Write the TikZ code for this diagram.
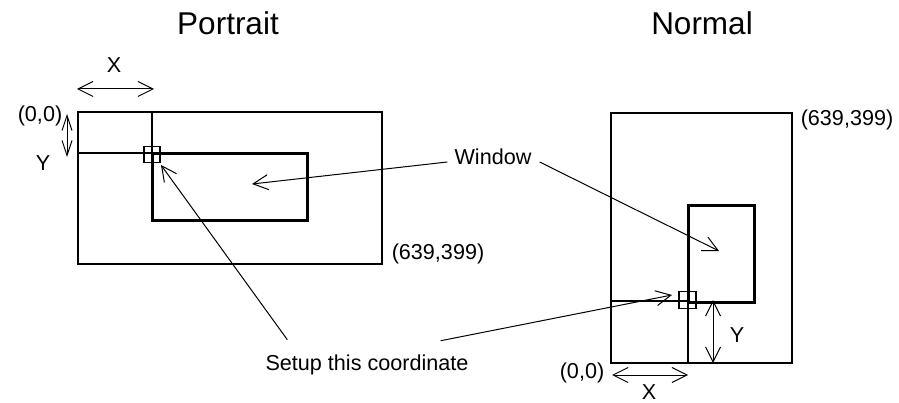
\documentclass[tikz,border=0pt]{standalone}
\usepackage{fontspec}
\setmainfont{Liberation Sans}
\usetikzlibrary{arrows.meta}

\begin{document}
\begin{tikzpicture}[x=1pt,y=-1pt,
  lbl/.style={font=\fontsize{21.6}{26}\selectfont, inner sep=2pt},
  ttl/.style={font=\fontsize{31.5}{38}\selectfont, inner sep=0pt},
  frameline/.style={line width=1.1pt},
  winline/.style={line width=3pt},
  ptr/.style={line width=1pt,-{Straight Barb[length=15pt,width=15pt]}},
  dimline/.style={line width=1pt,{Straight Barb[length=15pt,width=15pt]}-{Straight Barb[length=15pt,width=15pt]}}]
  \useasboundingbox (0,0) rectangle (899,403);

  % portrait screen
  \coordinate (pc) at (152,154);
  \coordinate (pmid) at (252,184);
  \coordinate (pset) at (161,165);
  \draw[frameline] (78,112) rectangle (382,264);
  \draw[frameline] (152,112) -- (152,154);
  \draw[frameline] (78,153) -- (152,153);
  \draw[winline] (pc) rectangle (307,221);
  \draw[frameline] ([shift={(-8,-7.5)}]pc) rectangle ([shift={(8,8.5)}]pc);
  \draw[dimline] (77,89) -- (154,89);
  \draw[dimline,{Straight Barb[length=15pt,width=10pt]}-{Straight Barb[length=15pt,width=10pt]}] (67,114) -- (67,157);

  % normal screen
  \coordinate (nc) at (688,302);
  \coordinate (nmid) at (719,251);
  \coordinate (nset) at (672,295);
  \draw[frameline] (611,113) rectangle (792,363);
  \draw[winline] (nc) rectangle (754,206);
  \draw[frameline] (688,363) -- (688,302);
  \draw[frameline] (611,301) -- (688,301);
  \draw[frameline] (679,291.5) rectangle (696,308.5);
  \draw[dimline] (713,300) -- (713,363);
  \draw[dimline] (612,375) -- (688,375);

  % labels
  \node[ttl] (portrait) at (228,23) {Portrait};
  \node[ttl] (normal) at (702,23) {Normal};
  \node[lbl] (px) at (114,65) {X};
  \node[lbl] (py) at (43,163) {Y};
  \node[lbl] (porg) at (40,116) {(0,0)};
  \node[lbl] (pend) at (438,254) {(639,399)};
  \node[lbl] (nend) at (847,120) {(639,399)};
  \node[lbl] (norg) at (582,373) {(0,0)};
  \node[lbl,inner sep=0pt] (nx) at (649,392) {X};
  \node[lbl] (ny) at (737,335) {Y};
  \node[lbl] (win) at (493,157) {Window};
  \node[lbl] (setup) at (367,365) {Setup this coordinate};

  % pointers
  \draw[ptr] ([shift={(-5pt,-5pt)}]win.west) -- (pmid);
  \draw[ptr] ([shift={(6pt,-5pt)}]win.east) -- (nmid);
  \draw[ptr] ([shift={(24pt,13pt)}]setup.north west) -- (pset);
  \draw[ptr] ([shift={(-30pt,12pt)}]setup.north east) -- (nset);
\end{tikzpicture}
\end{document}
